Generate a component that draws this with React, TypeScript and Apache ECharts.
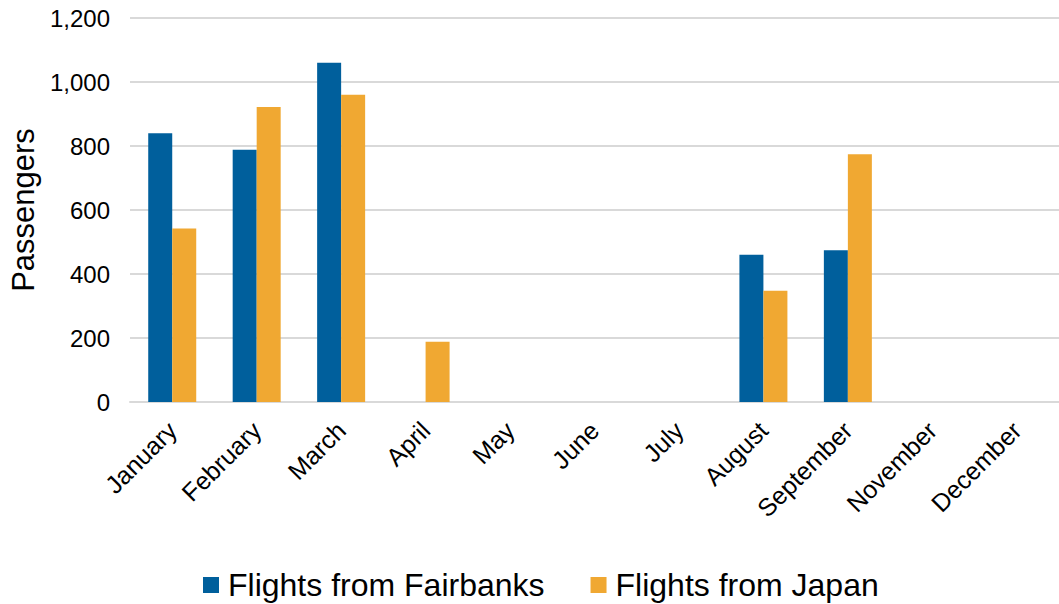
import React, { useEffect, useRef } from "react";
import * as echarts from "echarts";

const categories = ["January", "February", "March", "April", "May", "June", "July", "August", "September", "November", "December"];
const fairbanks = [840, 788, 1060, null, null, null, null, 460, 474, null, null];
const japan = [542, 922, 960, 188, null, null, null, 348, 774, null, null];
const yTicks = [0, 200, 400, 600, 800, 1000, 1200];

export default function App() {
  const ref = useRef<HTMLDivElement>(null);
  useEffect(() => {
    const chart = echarts.init(ref.current!, null, { renderer: "svg" });
    const font = "Liberation Sans, Arial, sans-serif";
    chart.setOption({
      animation: false,
      textStyle: { fontFamily: font },
      grid: { left: 130, right: 0, top: 18, bottom: 202, containLabel: false, outerBoundsMode: "none" },
      legend: {
        top: 564,
        left: 198,
        itemWidth: 16,
        itemHeight: 16,
        itemGap: 46,
        icon: "rect",
        textStyle: { fontSize: 32, color: "#000", fontFamily: font, padding: [0, 0, 0, 4] },
        data: ["Flights from Fairbanks", "Flights from Japan"],
      },
      xAxis: {
        type: "category",
        data: categories,
        axisLine: { show: true, lineStyle: { color: "#d9d9d9", width: 2 } },
        axisTick: { show: false },
        axisLabel: { rotate: 45, fontSize: 25, color: "#000", margin: 24, fontFamily: font },
      },
      yAxis: {
        type: "value",
        min: yTicks[0],
        max: yTicks[yTicks.length - 1],
        interval: 200,
        name: "Passengers",
        nameLocation: "middle",
        nameGap: 90,
        nameTextStyle: { fontSize: 31, color: "#000", fontFamily: font },
        axisLine: { show: false },
        axisTick: { show: false },
        axisLabel: {
          fontSize: 24,
          color: "#000",
          margin: 20,
          fontFamily: font,
          formatter: (v: number) => v.toLocaleString("en-US"),
        },
        splitLine: { lineStyle: { color: "#d9d9d9", width: 2 } },
      },
      series: [
        {
          name: "Flights from Fairbanks",
          type: "bar",
          data: fairbanks,
          barWidth: 24,
          barGap: "0%",
          itemStyle: { color: "#005F9C" },
        },
        {
          name: "Flights from Japan",
          type: "bar",
          data: japan,
          barWidth: 24,
          barGap: "0%",
          itemStyle: { color: "#F0A832" },
        },
      ],
    });
    return () => chart.dispose();
  }, []);
  return <div ref={ref} style={{ width: 1059, height: 604, position: "absolute", left: 0, top: 0 }} />;
}
